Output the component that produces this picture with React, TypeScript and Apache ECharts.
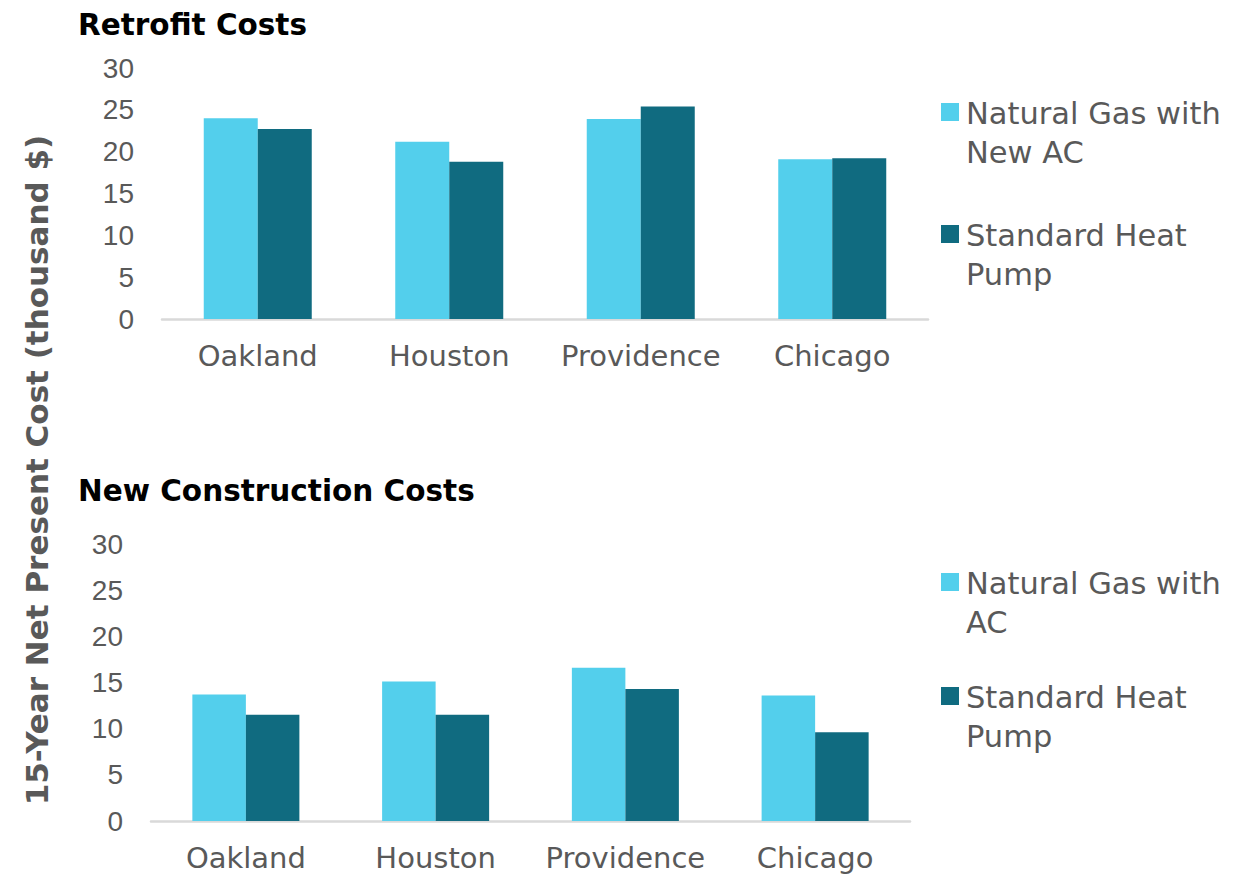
import React, { useEffect, useRef } from "react";
import * as echarts from "echarts";

const cities = ["Oakland", "Houston", "Providence", "Chicago"];
const retrofitGas = [24.0, 21.2, 23.9, 19.1];
const retrofitHeatPump = [22.7, 18.8, 25.4, 19.2];
const newGas = [13.7, 15.1, 16.6, 13.6];
const newHeatPump = [11.5, 11.5, 14.3, 9.6];
const yTicks = { min: 0, max: 30, interval: 5 };

const titles = ["Retrofit Costs", "New Construction Costs"];
const topNames = ["Natural Gas with New AC", "Standard Heat Pump"];
const bottomNames = ["Natural Gas with AC", "Standard Heat Pump "];
const topLegendLabels = ["Natural Gas with\nNew AC", "Standard Heat\nPump"];
const bottomLegendLabels = ["Natural Gas with\nAC", "Standard Heat\nPump"];
const yAxisName = "15-Year Net Present Cost (thousand $)";

const LIGHT = "#53CFEC";
const DARK = "#106B80";
const GRAY = "#595959";
const FONT = "DejaVu Sans";

export default function App() {
  const ref = useRef<HTMLDivElement>(null);
  useEffect(() => {
    if (!ref.current) return;
    const chart = echarts.init(ref.current, null, { renderer: "svg" });
    const catAxis = (gridIndex: number) => ({
      type: "category",
      gridIndex,
      data: cities,
      axisLine: { lineStyle: { color: "#D9D9D9", width: 2.5 } },
      axisTick: { show: false },
      axisLabel: {
        color: GRAY,
        fontSize: 29,
        fontFamily: FONT,
        margin: 22,
        interval: 0,
        hideOverlap: false,
      },
    });
    const valAxis = (gridIndex: number) => ({
      type: "value",
      gridIndex,
      min: yTicks.min,
      max: yTicks.max,
      interval: yTicks.interval,
      splitLine: { show: false },
      axisLine: { show: false },
      axisTick: { show: false },
      axisLabel: { color: GRAY, fontSize: 28, fontFamily: "Liberation Sans", margin: 28 },
    });
    const barBase = { type: "bar", barGap: "0%", barCategoryGap: "43.6%" };
    const legendItems = (labels: string[], top: number, gap: number) => {
      const els: any[] = [];
      labels.forEach((lab, i) => {
        const y = top + i * gap;
        els.push({
          type: "rect",
          shape: { x: 941, y: y, width: 18, height: 18 },
          style: { fill: i === 0 ? LIGHT : DARK },
        });
        els.push({
          type: "text",
          x: 966,
          y: y - 9.5,
          style: {
            text: lab,
            fill: GRAY,
            fontSize: 30.5,
            fontFamily: FONT,
            lineHeight: 39,
            verticalAlign: "top",
          },
        });
      });
      return els;
    };
    const titleStyle = { color: "#000", fontSize: 29.5, fontWeight: "bold", fontFamily: FONT };
    chart.setOption({
      animation: false,
      backgroundColor: "#FFFFFF",
      title: [
        { text: titles[0], left: 73, top: 5, textStyle: titleStyle },
        { text: titles[1], left: 73, top: 471, textStyle: titleStyle },
      ],
      grid: [
        { left: 162, right: 322, top: 68, height: 251 },
        { left: 151, right: 340, top: 544, height: 277 },
      ],
      xAxis: [catAxis(0), catAxis(1)],
      yAxis: [valAxis(0), valAxis(1)],
      series: [
        { ...barBase, name: topNames[0], xAxisIndex: 0, yAxisIndex: 0, data: retrofitGas, itemStyle: { color: LIGHT } },
        { ...barBase, name: topNames[1], xAxisIndex: 0, yAxisIndex: 0, data: retrofitHeatPump, itemStyle: { color: DARK } },
        { ...barBase, name: bottomNames[0], xAxisIndex: 1, yAxisIndex: 1, data: newGas, itemStyle: { color: LIGHT } },
        { ...barBase, name: bottomNames[1], xAxisIndex: 1, yAxisIndex: 1, data: newHeatPump, itemStyle: { color: DARK } },
      ],
      graphic: [
        {
          type: "text",
          x: 37,
          y: 470,
          rotation: Math.PI / 2,
          style: {
            text: yAxisName,
            fill: GRAY,
            fontSize: 31,
            fontWeight: "bold",
            fontFamily: FONT,
            align: "center",
            verticalAlign: "middle",
          },
        },
        ...legendItems(topLegendLabels, 103, 122),
        ...legendItems(bottomLegendLabels, 573, 114),
      ],
    });
    return () => chart.dispose();
  }, []);
  return (
    <div
      ref={ref}
      style={{ position: "fixed", left: 0, top: 0, width: 1250, height: 876 }}
    />
  );
}
